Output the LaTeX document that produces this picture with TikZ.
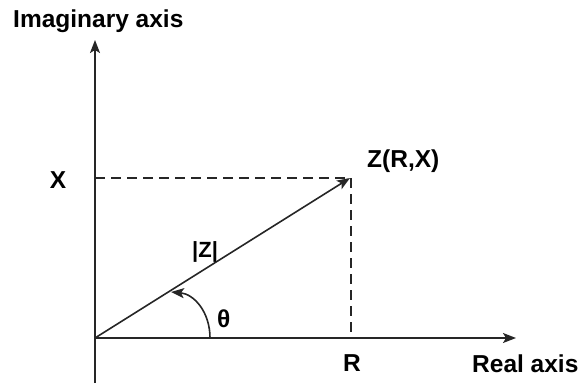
\documentclass[tikz,border=0pt]{standalone}
\usepackage{fontspec}
\setmainfont{Liberation Sans}
\usetikzlibrary{arrows.meta}
\begin{document}
\begin{tikzpicture}[x=1pt,y=-1pt,
  axisline/.style={line width=1.6pt,draw=black!85},
  tip/.style={-{Stealth[length=13pt,width=10pt,inset=3pt]}},
  dashline/.style={line width=1.6pt,draw=black!85,dash pattern=on 10pt off 6pt},
  lbl/.style={font=\fontsize{24.5}{28}\selectfont\bfseries,inner sep=0pt,text=black}]
\useasboundingbox (0,0) rectangle (581,383);
\coordinate (O) at (95,338);
\coordinate (Ytop) at (95,40);
\coordinate (Ybot) at (95,383);
\coordinate (Xend) at (516,338);
\coordinate (Z) at (350,178);
\coordinate (Xp) at (95,178);
\coordinate (Zp) at (351,178);
\coordinate (Rp) at (351,338);
\coordinate (A0) at (210,338);
\coordinate (A1) at (171,292);
\draw[axisline,tip] (Ybot) -- (Ytop);
\draw[axisline,tip] (O) -- (Xend);
\draw[dashline] (Xp) -- (Zp);
\draw[dashline] (Zp) -- (Rp);
\draw[axisline,tip] (O) -- (Z);
\draw[axisline,tip] (A0) .. controls (210,312) and (194,294) .. (A1);
\node[lbl,anchor=base west] (imag) at (13,27) {Imaginary axis};
\node[lbl,anchor=base west] (real) at (472,372) {Real axis};
\node[lbl,anchor=base] (rlbl) at (352,371) {R};
\node[lbl,anchor=base] (xlbl) at (58,188) {X};
\node[lbl,anchor=base west] (zlbl) at (367,167) {Z(R,X)};
\node[lbl,anchor=base west,font=\fontsize{22}{26}\selectfont\bfseries] (zabs) at (192,257) {|Z|};
\node[lbl,anchor=base west] (theta) at (217,327) {θ};
\end{tikzpicture}
\end{document}
